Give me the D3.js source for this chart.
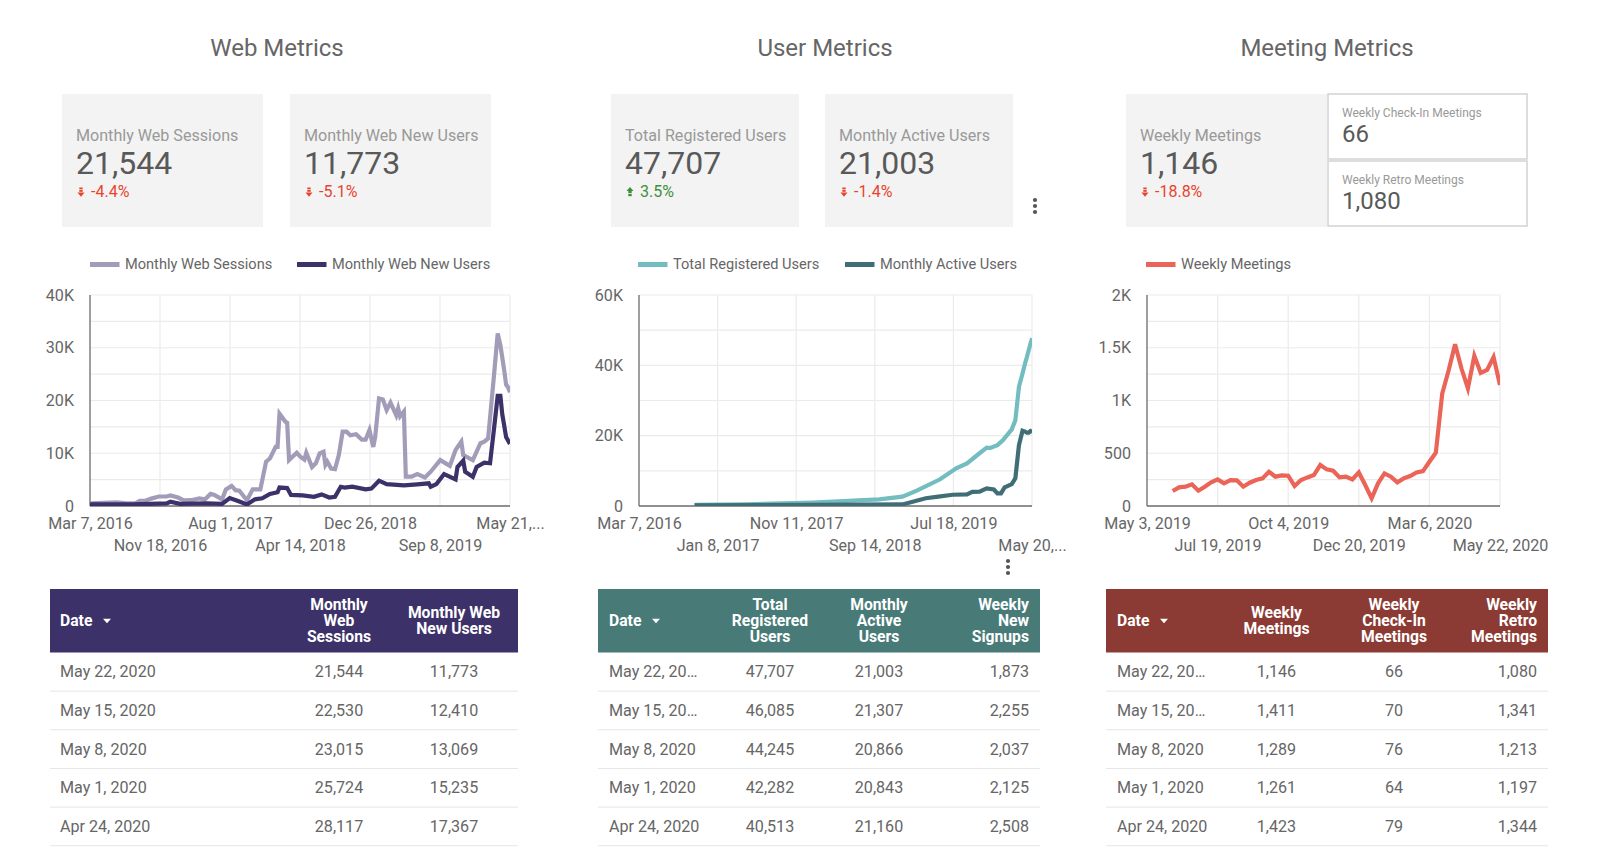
<!DOCTYPE html>
<html>
<head>
<meta charset="utf-8">
<script src="https://cdn.jsdelivr.net/npm/d3@7"></script>
<style>
    html, body { margin: 0; padding: 0; background: #fff; }
    svg { display: block; font-family: Roboto, sans-serif; }
    .grid line { stroke: #ebebeb; stroke-width: 1.2; }
    .axis text { fill: #666; font-size: 16.1px; font-family: Roboto, sans-serif; }
    .axis .domain { stroke: #6b6b6b; stroke-width: 1.3; }
    .axis .tick line { display: none; }
</style>
</head>
<body>
<svg id="chart" width="1600" height="856"></svg>
<script>
// week numbers count from Mar 7, 2016
const webSessionWeeks = [0, 7, 14, 19, 24, 26, 29, 32, 36, 40, 42, 46, 49, 53, 57, 60, 63, 65, 69, 71, 74, 76, 78, 82, 85, 89, 90, 92, 94, 97, 98, 99, 102, 103, 104, 108, 110, 112, 113, 116, 118, 120, 122, 123, 124, 126, 128, 130, 132, 134, 136, 139, 142, 144, 146, 148, 149, 151, 153, 155, 157, 160, 161, 162, 164, 165, 168, 171, 175, 178, 183, 188, 191, 194, 195, 200, 204, 206, 208, 211, 213, 214.4, 215.4, 216.4, 217.4, 218.4, 219.4];
const webSessions = [500, 600, 700, 500, 550, 1000, 1000, 1400, 1800, 1800, 2000, 1600, 1050, 1100, 1450, 1250, 2300, 2100, 1250, 3150, 3800, 3000, 2900, 1100, 3150, 3150, 4900, 8400, 9000, 11200, 11200, 17500, 16000, 15800, 8700, 10100, 9300, 8800, 10100, 7400, 8100, 10000, 10300, 7800, 8400, 7100, 7000, 9650, 14100, 14100, 13400, 13600, 12600, 12600, 14400, 11200, 13100, 20400, 20200, 18200, 19600, 17200, 18500, 17000, 17900, 5550, 5550, 6050, 5400, 6500, 8700, 7600, 10600, 12200, 9650, 8700, 11900, 12200, 12800, 24500, 32700, 30500, 28117, 25724, 23015, 22530, 21544];
const webNewUserWeeks = [0, 22, 40, 42, 47, 61, 69, 73, 77, 82, 86, 90, 94, 98, 99, 103, 105, 111, 117, 121, 125, 128, 131, 133, 137, 144, 147, 151, 155, 164, 171, 177, 178, 181, 185, 191, 192, 195, 196, 200, 202, 206, 209, 211, 213, 214.4, 215.4, 216.4, 217.4, 218.4, 219.4];
const webNewUsers = [300, 300, 500, 800, 400, 500, 400, 1500, 1000, 300, 1250, 1450, 2300, 2600, 3500, 3400, 2100, 2000, 1750, 2200, 1600, 1750, 3650, 3500, 3650, 3150, 3300, 4800, 4150, 3900, 4100, 4300, 3650, 4150, 6050, 5050, 7400, 8600, 6500, 5550, 7400, 8200, 8100, 14400, 20900, 20900, 17367, 15235, 13069, 12410, 11773];

const registeredWeeks = [31, 60, 97, 134, 147, 155, 168, 177, 183, 190, 194, 196, 200, 203, 208, 210, 212, 214, 215.4, 216.4, 217.4, 218.4, 219.4];
const registeredUsers = [300, 450, 1000, 1900, 2650, 4350, 7600, 10700, 12100, 15000, 16600, 16500, 17300, 18700, 21800, 24400, 33900, 37700, 40513, 42282, 44245, 46085, 47707];
const activeWeeks = [31, 97, 147, 160, 167, 175, 183, 186, 190, 194, 198, 200, 202, 204, 208, 210, 212, 214, 215.4, 216.4, 217.4, 218.4, 219.4];
const activeUsers = [200, 300, 450, 2200, 2650, 3200, 3300, 4000, 4100, 5000, 4700, 3600, 3600, 5300, 6200, 7900, 17300, 21400, 21160, 20843, 20866, 21307, 21003];

// weekly, from May 31, 2019 to May 22, 2020
const meetingWeeks = d3.range(4, 56);
const weeklyMeetings = [142, 177, 183, 205, 145, 183, 224, 252, 215, 246, 243, 183, 221, 246, 262, 325, 278, 290, 287, 189, 246, 271, 293, 388, 347, 334, 271, 278, 252, 318, 199, 73, 215, 309, 278, 224, 262, 284, 318, 331, 420, 505, 1066, 1287, 1533, 1303, 1114, 1423, 1261, 1289, 1411, 1146];

const webTickDates = ['2016-03-07', '2016-11-18', '2017-08-01', '2018-04-14', '2018-12-26', '2019-09-08', '2020-05-21'];
const webTickLabels = ['Mar 7, 2016', 'Nov 18, 2016', 'Aug 1, 2017', 'Apr 14, 2018', 'Dec 26, 2018', 'Sep 8, 2019', 'May 21,...'];
const userTickDates = ['2016-03-07', '2017-01-08', '2017-11-11', '2018-09-14', '2019-07-18', '2020-05-20'];
const userTickLabels = ['Mar 7, 2016', 'Jan 8, 2017', 'Nov 11, 2017', 'Sep 14, 2018', 'Jul 18, 2019', 'May 20,...'];
const meetingTickDates = ['2019-05-03', '2019-07-19', '2019-10-04', '2019-12-20', '2020-03-06', '2020-05-22'];
const meetingTickLabels = ['May 3, 2019', 'Jul 19, 2019', 'Oct 4, 2019', 'Dec 20, 2019', 'Mar 6, 2020', 'May 22, 2020'];

const webHeaders = ['Date', 'Monthly\nWeb\nSessions', 'Monthly Web\nNew Users'];
const webDates = ['May 22, 2020', 'May 15, 2020', 'May 8, 2020', 'May 1, 2020', 'Apr 24, 2020'];
const webSessionCells = ['21,544', '22,530', '23,015', '25,724', '28,117'];
const webNewUserCells = ['11,773', '12,410', '13,069', '15,235', '17,367'];

const userHeaders = ['Date', 'Total\nRegistered\nUsers', 'Monthly\nActive\nUsers', 'Weekly\nNew\nSignups'];
const userDates = ['May 22, 20…', 'May 15, 20…', 'May 8, 2020', 'May 1, 2020', 'Apr 24, 2020'];
const registeredCells = ['47,707', '46,085', '44,245', '42,282', '40,513'];
const activeCells = ['21,003', '21,307', '20,866', '20,843', '21,160'];
const signupCells = ['1,873', '2,255', '2,037', '2,125', '2,508'];

const meetingHeaders = ['Date', 'Weekly\nMeetings', 'Weekly\nCheck-In\nMeetings', 'Weekly\nRetro\nMeetings'];
const meetingDates = ['May 22, 20…', 'May 15, 20…', 'May 8, 2020', 'May 1, 2020', 'Apr 24, 2020'];
const meetingCells = ['1,146', '1,411', '1,289', '1,261', '1,423'];
const checkInCells = ['66', '70', '76', '64', '79'];
const retroCells = ['1,080', '1,341', '1,213', '1,197', '1,344'];

const svg = d3.select('#chart');
const parseDay = d3.utcParse('%Y-%m-%d');
const dayMs = 86400000;
const webStart = parseDay('2016-03-07');
const meetingStart = parseDay('2019-05-03');
const weekDate = (start, w) => new Date(start.getTime() + w * 7 * dayMs);

const plotTop = 295, plotBottom = 506;

function addText(x, y, str, size, color, anchor, weight) {
    return svg.append('text')
        .attr('x', x)
        .attr('y', y)
        .attr('dy', '0.35em')
        .attr('text-anchor', anchor || 'start')
        .attr('font-size', size)
        .attr('font-weight', weight || 400)
        .attr('fill', color)
        .text(str);
}

// big grey number card
function drawKpi(x0, x1, label, value, delta, up) {
    svg.append('rect').attr('x', x0).attr('y', 94).attr('width', x1 - x0).attr('height', 133).attr('fill', '#f3f3f3');
    addText(x0 + 14, 135, label, 16.1, '#999');
    addText(x0 + 14, 162.5, value, 32, '#595959');
    const color = up ? '#3f8f3f' : '#e8432e';
    const ax = x0 + 19, ay = 192;
    const g = svg.append('g').attr('transform', `translate(${ax},${ay})`).attr('fill', color);
    if (up) {
        g.append('path').attr('d', 'M-3.5,-1 L0,-5 L3.5,-1 Z');
        g.append('rect').attr('x', -1.7).attr('y', -1).attr('width', 3.4).attr('height', 2);
        g.append('rect').attr('x', -1.7).attr('y', 1.8).attr('width', 3.4).attr('height', 2.4);
    } else {
        g.append('rect').attr('x', -1.7).attr('y', -4.5).attr('width', 3.4).attr('height', 1.6);
        g.append('rect').attr('x', -1.7).attr('y', -2.2).attr('width', 3.4).attr('height', 2);
        g.append('path').attr('d', 'M-3.5,0.5 L0,4.8 L3.5,0.5 Z');
    }
    addText(x0 + 29, 191, delta, 16, color);
}

function drawSmallCard(y0, label, value) {
    svg.append('rect').attr('x', 1328).attr('y', y0).attr('width', 199).attr('height', 65)
        .attr('fill', '#fff').attr('stroke', '#d2d2d2').attr('stroke-width', 1.5);
    addText(1342, y0 + 18.5, label, 12, '#999');
    addText(1342, y0 + 39.5, value, 24, '#595959');
}

function drawLegend(items) {
    items.forEach(d => {
        svg.append('rect').attr('x', d.x).attr('y', 262).attr('width', 29.5).attr('height', 5).attr('fill', d.color);
        addText(d.x + 35, 264, d.label, 14.6, '#666');
    });
}

// one line chart: grid, axes and its series
function drawLineChart(cfg) {
    const x = d3.scaleUtc().domain(cfg.domain).range([cfg.left, cfg.right]);
    const y = d3.scaleLinear().domain([0, cfg.yMax]).range([plotBottom, plotTop]);
    const tickDates = cfg.tickDates.map(parseDay);

    const grid = svg.append('g').attr('class', 'grid');
    grid.selectAll('.h').data(d3.range(cfg.yStep / 2, cfg.yMax + 1, cfg.yStep / 2)).enter().append('line')
        .attr('x1', cfg.left).attr('x2', cfg.right)
        .attr('y1', d => y(d)).attr('y2', d => y(d));
    grid.selectAll('.v').data(tickDates.slice(1)).enter().append('line')
        .attr('x1', d => x(d)).attr('x2', d => x(d))
        .attr('y1', plotTop).attr('y2', plotBottom);

    const clipId = 'clip' + cfg.left;
    svg.append('clipPath').attr('id', clipId).append('rect')
        .attr('x', cfg.left).attr('y', plotTop - 5)
        .attr('width', cfg.right - cfg.left).attr('height', plotBottom - plotTop + 5);

    const yAxis = svg.append('g').attr('class', 'axis')
        .attr('transform', `translate(${cfg.left},0)`)
        .call(d3.axisLeft(y).tickValues(d3.range(0, cfg.yMax + 1, cfg.yStep)).tickFormat(cfg.yFormat).tickSize(0).tickPadding(16));
    yAxis.select('.domain').attr('d', `M0,${plotTop}V${plotBottom}`);

    const xAxis = svg.append('g').attr('class', 'axis')
        .attr('transform', `translate(0,${plotBottom})`)
        .call(d3.axisBottom(x).tickValues(tickDates).tickFormat((d, i) => cfg.tickLabels[i]).tickSize(0).tickPadding(11));
    xAxis.select('.domain').attr('d', `M${cfg.left},0H${cfg.right}`);
    xAxis.selectAll('.tick text').attr('dy', (d, i) => i % 2 ? '2.1em' : '0.75em');

    cfg.series.forEach(s => {
        const line = d3.line()
            .x((d, i) => x(weekDate(cfg.start, s.weeks[i])))
            .y(d => y(d));
        svg.append('path')
            .datum(s.values)
            .attr('clip-path', `url(#${clipId})`)
            .attr('fill', 'none')
            .attr('stroke', s.color)
            .attr('stroke-width', 4.2)
            .attr('stroke-linejoin', 'miter')
            .attr('d', line);
    });
}

// table: columns are {cells, x, anchor}
function drawTable(cfg) {
    const top = 589, headerH = 63.5, rowH = 38.65;
    svg.append('rect').attr('x', cfg.left).attr('y', top).attr('width', cfg.right - cfg.left).attr('height', headerH).attr('fill', cfg.color);
    cfg.columns.forEach((col, c) => {
        const lines = cfg.headers[c].split('\n');
        lines.forEach((str, i) => {
            addText(col.x, top + headerH / 2 + (i - (lines.length - 1) / 2) * 16.1, str, 15.7, '#fff', col.anchor, 700);
        });
        col.cells.forEach((str, r) => {
            addText(col.x, top + headerH + rowH * r + 19.3, str, 16.1, '#666', col.anchor);
        });
    });
    const ax = cfg.columns[0].x + 47;
    svg.append('path').attr('d', `M${ax - 4},${top + headerH / 2 - 2} h8 l-4,4.5 Z`).attr('fill', '#fff');
    d3.range(5).forEach(r => {
        const yy = top + headerH + rowH * (r + 1);
        svg.append('line').attr('x1', cfg.left).attr('x2', cfg.right).attr('y1', yy).attr('y2', yy)
            .attr('stroke', '#e6e6e6').attr('stroke-width', 1);
    });
}

function drawKebab(cx, cy) {
    svg.selectAll(null).data([-6, 0, 6]).enter().append('circle')
        .attr('cx', cx).attr('cy', d => cy + d).attr('r', 2.1).attr('fill', '#555');
}

addText(277, 48, 'Web Metrics', 24, '#666', 'middle');
addText(825, 48, 'User Metrics', 24, '#666', 'middle');
addText(1327, 48, 'Meeting Metrics', 24, '#666', 'middle');

drawKpi(62, 263, 'Monthly Web Sessions', '21,544', '-4.4%', false);
drawKpi(290, 491, 'Monthly Web New Users', '11,773', '-5.1%', false);
drawKpi(611, 799, 'Total Registered Users', '47,707', '3.5%', true);
drawKpi(825, 1013, 'Monthly Active Users', '21,003', '-1.4%', false);
drawKpi(1126, 1327, 'Weekly Meetings', '1,146', '-18.8%', false);
drawSmallCard(94, 'Weekly Check-In Meetings', '66');
drawSmallCard(161, 'Weekly Retro Meetings', '1,080');
drawKebab(1035, 206);
drawKebab(1008, 567);

drawLegend([
    { x: 90, label: 'Monthly Web Sessions', color: '#a39cb9' },
    { x: 297, label: 'Monthly Web New Users', color: '#3d3169' },
    { x: 638, label: 'Total Registered Users', color: '#73bcbf' },
    { x: 845, label: 'Monthly Active Users', color: '#3f6e77' },
    { x: 1146, label: 'Weekly Meetings', color: '#ea6557' }
]);

const formatK = d => d === 0 ? '0' : (d / 1000) + 'K';
const formatMeetings = d => d >= 1000 ? (d / 1000) + 'K' : String(d);

drawLineChart({
    left: 90, right: 510, yMax: 40000, yStep: 10000, yFormat: formatK,
    start: webStart, domain: [parseDay('2016-03-07'), parseDay('2020-05-21')],
    tickDates: webTickDates, tickLabels: webTickLabels,
    series: [
        { weeks: webSessionWeeks, values: webSessions, color: '#a39cb9' },
        { weeks: webNewUserWeeks, values: webNewUsers, color: '#3d3169' }
    ]
});
drawLineChart({
    left: 639, right: 1032, yMax: 60000, yStep: 20000, yFormat: formatK,
    start: webStart, domain: [parseDay('2016-03-07'), parseDay('2020-05-20')],
    tickDates: userTickDates, tickLabels: userTickLabels,
    series: [
        { weeks: registeredWeeks, values: registeredUsers, color: '#73bcbf' },
        { weeks: activeWeeks, values: activeUsers, color: '#3f6e77' }
    ]
});
drawLineChart({
    left: 1147, right: 1500, yMax: 2000, yStep: 500, yFormat: formatMeetings,
    start: meetingStart, domain: [parseDay('2019-05-03'), parseDay('2020-05-22')],
    tickDates: meetingTickDates, tickLabels: meetingTickLabels,
    series: [{ weeks: meetingWeeks, values: weeklyMeetings, color: '#ea6557' }]
});

drawTable({
    left: 50, right: 518, color: '#3d3169', headers: webHeaders,
    columns: [
        { cells: webDates, x: 60, anchor: 'start' },
        { cells: webSessionCells, x: 339, anchor: 'middle' },
        { cells: webNewUserCells, x: 454, anchor: 'middle' }
    ]
});
drawTable({
    left: 598, right: 1040, color: '#487b78', headers: userHeaders,
    columns: [
        { cells: userDates, x: 609, anchor: 'start' },
        { cells: registeredCells, x: 770, anchor: 'middle' },
        { cells: activeCells, x: 879, anchor: 'middle' },
        { cells: signupCells, x: 1029, anchor: 'end' }
    ]
});
drawTable({
    left: 1106, right: 1548, color: '#8b3b34', headers: meetingHeaders,
    columns: [
        { cells: meetingDates, x: 1117, anchor: 'start' },
        { cells: meetingCells, x: 1276.5, anchor: 'middle' },
        { cells: checkInCells, x: 1394, anchor: 'middle' },
        { cells: retroCells, x: 1537, anchor: 'end' }
    ]
});
</script>
</body>
</html>
